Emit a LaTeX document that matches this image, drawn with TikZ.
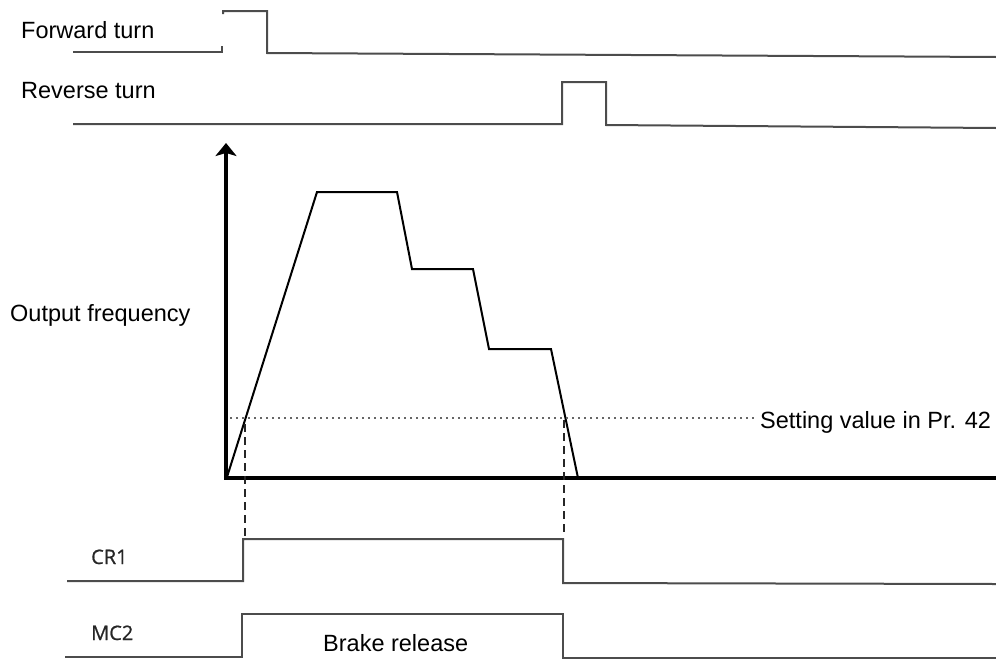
\documentclass[tikz,border=0pt]{standalone}
\usepackage{fontspec}
\setmainfont{Liberation Sans}
\newfontfamily\lblfont[FakeBold=0.8]{Open Sans}
\usetikzlibrary{arrows.meta}
\begin{document}
\begin{tikzpicture}[x=1pt,y=-1pt,
  sig/.style={draw=black!70, line width=2pt, line join=miter},
  curve/.style={draw=black, line width=2pt, line join=miter},
  axis/.style={draw=black, line width=4pt, line join=miter},
  lbl/.style={anchor=base west, inner sep=0pt, font=\fontsize{23.5}{24}\selectfont},
  sml/.style={anchor=base west, inner sep=0pt, font=\lblfont\fontsize{20}{20}\selectfont, text=black!85},
  guide/.style={draw=black!85, line width=1.6pt, dash pattern=on 8pt off 5pt},
  dots/.style={draw=black!60, line width=1.5pt, dash pattern=on 1.5pt off 4.5pt}]
\useasboundingbox (0,0) rectangle (996,659);
% labels
\node[lbl] (fwd) at (21,38) {Forward turn};
\node[lbl] (rev) at (21,98) {Reverse turn};
\node[lbl] (out) at (10,321) {Output frequency};
\node[lbl] (set) at (760,428) {Setting value in Pr. 42};
\node[lbl] (brk) at (323,651) {Brake release};
\node[sml] (cr1) at (91,564) {CR1};
\node[sml] (mc2) at (91,640) {MC2};
% forward turn signal
\draw[sig] (73,52) -- (222,52) -- (222,46);
\draw[sig] (223,14) -- (223,11) -- (267,11) -- (267,53) -- (996,57);
% reverse turn signal
\draw[sig] (73,124) -- (562,124) -- (562,82) -- (606,82) -- (606,125) -- (996,128);
% axes
\draw[axis, {Stealth[length=13pt,width=21pt,inset=3pt]}-] (226,143) -- (226,478) -- (996,478);
% frequency curve
\draw[curve] (227,477) -- (317,192) -- (397,192) -- (412,269) -- (473,269) -- (489,349) -- (551,349) -- (578,478);
% setting value level
\draw[dots] (230,418) -- (756,418);
% guides
\draw[guide] (245,424) -- (245,536);
\draw[guide] (564,420) -- (564,536);
% CR1
\draw[sig] (67,581) -- (243,581) -- (243,539) -- (563,539) -- (563,583) -- (996,584);
% MC2
\draw[sig] (65,657) -- (242,657) -- (242,614) -- (563,614) -- (563,658) -- (996,658);
\end{tikzpicture}
\end{document}
